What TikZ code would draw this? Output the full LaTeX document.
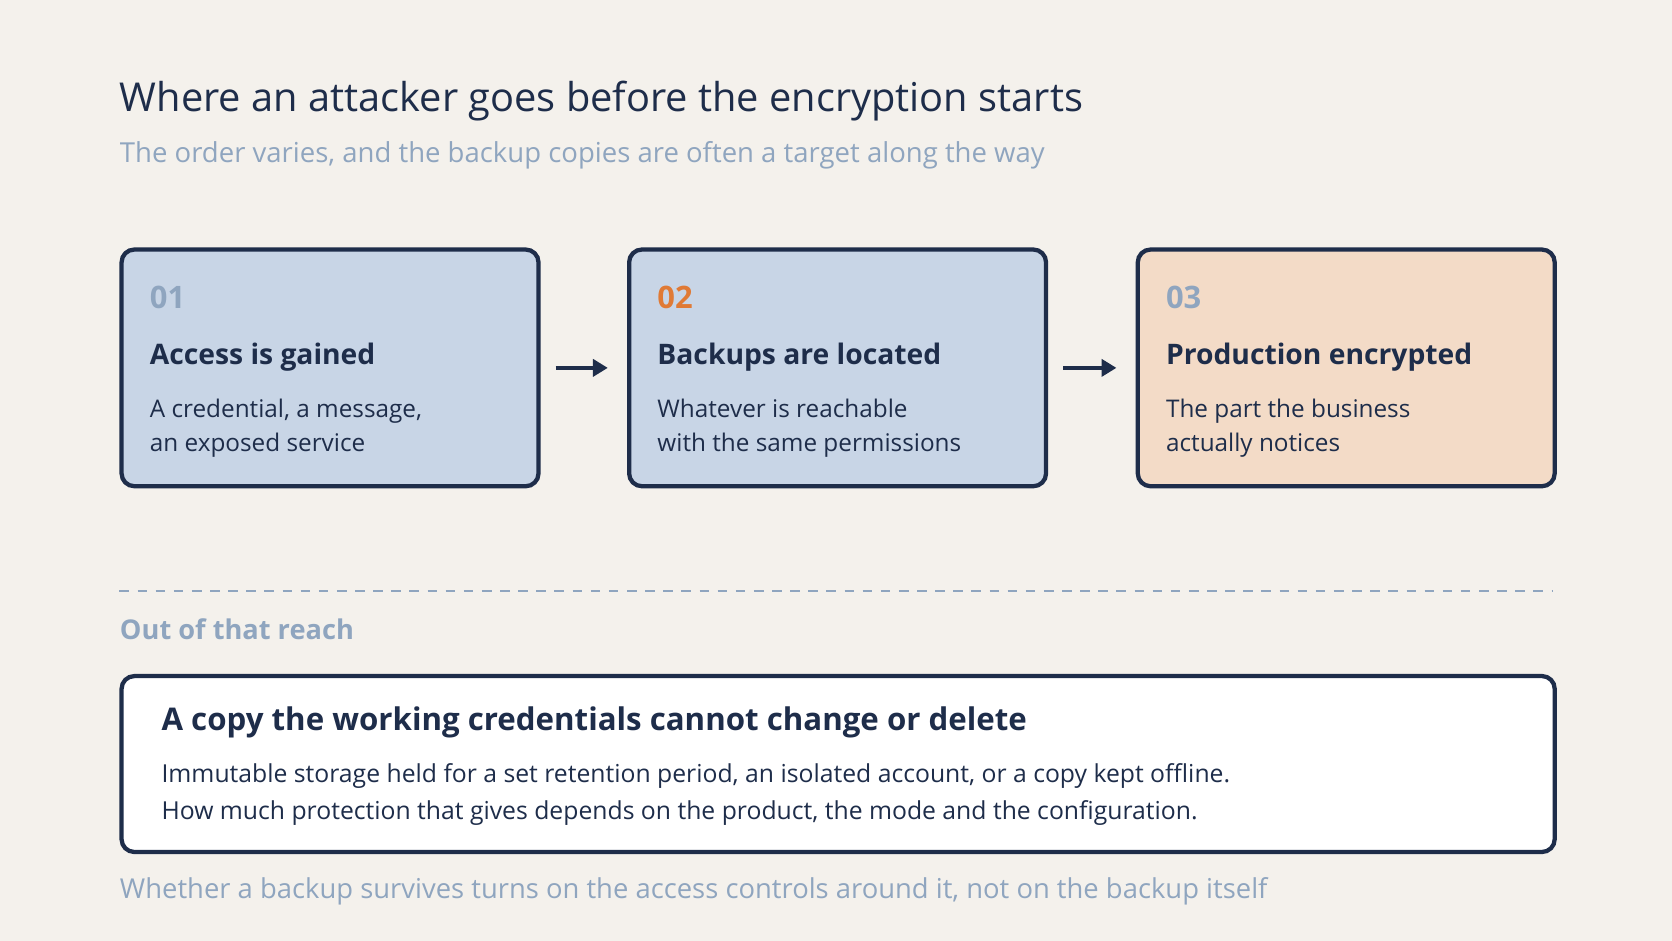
\documentclass[tikz,border=0pt]{standalone}
\usepackage{fontspec}
\setmainfont{Open Sans}
\usetikzlibrary{arrows.meta}
\definecolor{bg}{HTML}{F4F1EC}
\definecolor{navy}{HTML}{1E2D4A}
\definecolor{lblue}{HTML}{C8D5E6}
\definecolor{peach}{HTML}{F3DBC7}
\definecolor{muted}{HTML}{8FA5BF}
\definecolor{orng}{HTML}{E07A35}
\tikzset{
 card/.style={draw=navy,line width=4pt,rounded corners=12pt,minimum width=391pt,minimum height=222pt,anchor=north west},
 num/.style={anchor=west,font=\bfseries\fontsize{29}{30}\selectfont,text=muted},
 head/.style={anchor=west,font=\bfseries\fontsize{26.5}{28}\selectfont,text=navy},
 body/.style={anchor=north west,align=left,font=\fontsize{22.8}{32}\selectfont,text=navy},
 arr/.style={-{Triangle[length=14pt,width=16pt]},line width=4pt,draw=navy}
}
\begin{document}
\begin{tikzpicture}[x=1pt,y=-1pt]
\fill[bg] (0,0) rectangle (1568,882);
\useasboundingbox (0,0) rectangle (1568,882);
\node[anchor=west,font=\fontsize{37.3}{40}\selectfont,text=navy] (t) at (109,95) {Where an attacker goes before the encryption starts};
\node[anchor=west,font=\fontsize{25.8}{28}\selectfont,text=muted] (st) at (109,146) {The order varies, and the backup copies are often a target along the way};
\node[card,fill=lblue] (b1) at (112,232) {};
\node[card,fill=lblue] (b2) at (588,232) {};
\node[card,fill=peach] (b3) at (1065,232) {};
\node[num] (n1) at (137,279) {01};
\node[num,text=orng] (n2) at (613,279) {02};
\node[num] (n3) at (1090,279) {03};
\node[head] (h1) at (137,335) {Access is gained};
\node[head] (h2) at (613,335) {Backups are located};
\node[head] (h3) at (1090,335) {Production encrypted};
\node[body] (d1) at (137,371) {A credential, a message,\\an exposed service};
\node[body] (d2) at (613,371) {Whatever is reachable\\with the same permissions};
\node[body] (d3) at (1090,371) {The part the business\\actually notices};
\draw[arr] ([xshift=14pt]b1.east) -- ([xshift=-18pt]b2.west);
\draw[arr] ([xshift=14pt]b2.east) -- ([xshift=-18pt]b3.west);
\coordinate (dl) at (112,554); \coordinate (dr) at (1456,554);
\draw[muted,line width=2pt,dash pattern=on 9pt off 8pt] (dl) -- (dr);
\node[anchor=west,font=\bfseries\fontsize{25.5}{28}\selectfont,text=muted] (o) at (109,590) {Out of that reach};
\node[draw=navy,fill=white,line width=4pt,rounded corners=12pt,minimum width=1344pt,minimum height=165pt,anchor=north west] (bb) at (112,632) {};
\node[anchor=west,font=\bfseries\fontsize{29.3}{30}\selectfont,text=navy] (bh) at (148,677) {A copy the working credentials cannot change or delete};
\node[body,font=\fontsize{23.2}{34}\selectfont] (bd) at (148,713) {Immutable storage held for a set retention period, an isolated account, or a copy kept offline.\\How much protection that gives depends on the product, the mode and the configuration.};
\node[anchor=west,font=\fontsize{25.7}{28}\selectfont,text=muted] (f) at (109,836) {Whether a backup survives turns on the access controls around it, not on the backup itself};
\end{tikzpicture}
\end{document}
